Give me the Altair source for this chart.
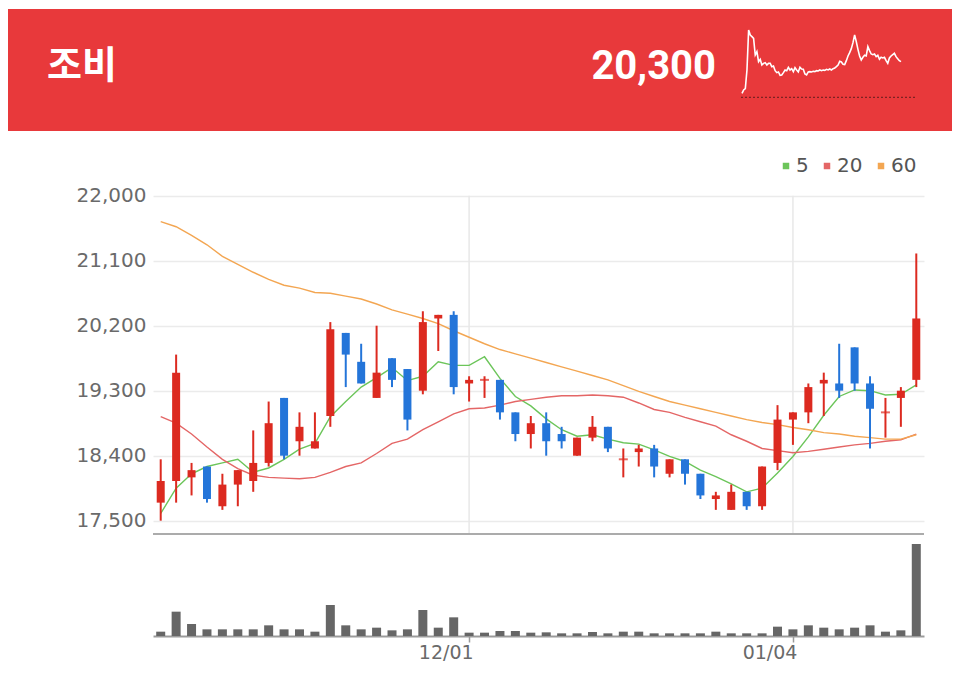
import json
import altair as alt
import pandas as pd

# ---------------- data ----------------
dates = ["11/03", "11/04", "11/05", "11/06", "11/09", "11/10", "11/11", "11/12", "11/13", "11/16",
         "11/17", "11/18", "11/19", "11/20", "11/23", "11/24", "11/25", "11/26", "11/27", "11/30",
         "12/01", "12/02", "12/03", "12/04", "12/07", "12/08", "12/09", "12/10", "12/11", "12/14",
         "12/15", "12/16", "12/17", "12/18", "12/21", "12/22", "12/23", "12/24", "12/28", "12/29",
         "12/30", "01/04", "01/05", "01/06", "01/07", "01/08", "01/11", "01/12", "01/13", "01/14"]

opens = [17750, 18050, 18100, 18250, 17700, 18000, 18050, 18300, 19200, 18600,
         18500, 18950, 20100, 19700, 19200, 19750, 19600, 19300, 20300, 20350,
         19400, 19450, 19450, 19000, 18700, 18850, 18700, 18400, 18650, 18800,
         18350, 18450, 18500, 18150, 18350, 18150, 17800, 17650, 17900, 17700,
         18300, 18900, 19000, 19400, 19400, 19900, 19400, 19000, 19200, 19450]
closes = [18050, 19550, 18200, 17800, 18000, 18200, 18300, 18850, 18400, 18800,
          18600, 20150, 19800, 19400, 19550, 19450, 18900, 20250, 20350, 19350,
          19450, 19450, 19000, 18700, 18850, 18600, 18600, 18650, 18800, 18500,
          18350, 18500, 18250, 18350, 18150, 17850, 17850, 17900, 17700, 18250,
          18900, 19000, 19350, 19450, 19300, 19400, 19050, 19000, 19300, 20300]
highs = [18350, 19800, 18300, 18250, 18150, 18200, 18750, 19150, 19200, 19000,
         19000, 20250, 20100, 19950, 20200, 19750, 19600, 20400, 20350, 20400,
         19500, 19500, 19450, 19000, 18950, 19000, 18800, 18650, 18950, 18800,
         18500, 18550, 18550, 18350, 18350, 18150, 17900, 18000, 17900, 18250,
         19100, 19000, 19400, 19550, 19950, 19900, 19500, 19200, 19350, 21200]
lows = [17500, 17750, 17850, 17750, 17650, 17700, 17900, 18250, 18350, 18400,
        18500, 18800, 19350, 19400, 19200, 19350, 18750, 19250, 19850, 19250,
        19150, 19200, 18900, 18600, 18500, 18400, 18500, 18400, 18600, 18450,
        18100, 18250, 18100, 18100, 18000, 17800, 17650, 17650, 17650, 17650,
        18200, 18550, 18850, 18950, 19200, 19300, 18500, 18650, 18800, 19350]
volumes = [130, 730, 360, 200, 200, 200, 200, 320, 200, 200,
           130, 930, 320, 200, 250, 170, 200, 780, 250, 560,
           100, 100, 150, 150, 100, 110, 80, 80, 120, 80,
           130, 130, 80, 80, 80, 80, 130, 80, 80, 80,
           280, 200, 320, 250, 200, 250, 320, 130, 170, 2760]

ma5 = [17600, 17950, 18150, 18250, 18300, 18350, 18170, 18230, 18350, 18490,
       18570, 18940, 19150, 19350, 19480, 19620, 19440, 19500, 19700, 19650,
       19650, 19770, 19470, 19220, 19090, 18910, 18760, 18670, 18690, 18630,
       18580, 18560, 18480, 18390, 18320, 18200, 18110, 18010, 17900, 17950,
       18160, 18390, 18660, 18960, 19220, 19310, 19300, 19240, 19250, 19380]
ma20 = [18940, 18850, 18700, 18520, 18350, 18220, 18130, 18100, 18090, 18080,
        18100, 18170, 18250, 18300, 18430, 18570, 18630, 18760, 18870, 18980,
        19050, 19060, 19100, 19150, 19180, 19210, 19230, 19230, 19240, 19230,
        19210, 19130, 19040, 19000, 18930, 18870, 18810, 18690, 18600, 18500,
        18470, 18440, 18460, 18490, 18520, 18550, 18570, 18600, 18620, 18700]
ma60 = [21640, 21570, 21450, 21320, 21160, 21050, 20940, 20840, 20760, 20720,
        20660, 20650, 20610, 20570, 20500, 20420, 20360, 20300, 20230, 20130,
        20040, 19950, 19870, 19810, 19750, 19690, 19630, 19570, 19510, 19450,
        19370, 19290, 19220, 19150, 19100, 19050, 19000, 18950, 18900, 18860,
        18830, 18790, 18760, 18720, 18700, 18670, 18650, 18630, 18630, 18690]

ma_names = ["5", "20", "60"]
ma_colors = ["#6cc55a", "#e46666", "#f3a652"]

price_ticks = [17500, 18400, 19300, 20200, 21100, 22000]
date_ticks = ["12/01", "01/04"]

stock_name = "조비"
last_price = "20,300"

spark_values = [12, 22, 26, 82, 202, 187, 182, 177, 127, 137, 107, 114, 97, 102, 104, 97,
                102, 102, 92, 94, 80, 74, 76, 66, 67, 74, 82, 80, 90, 82, 86, 77, 89, 82,
                76, 90, 85, 84, 70, 67, 76, 77, 76, 78, 77, 80, 79, 82, 80, 82, 81, 84,
                82, 85, 82, 86, 88, 92, 97, 108, 106, 99, 98, 110, 124, 134, 146, 164,
                187, 167, 144, 124, 112, 120, 126, 124, 152, 140, 130, 128, 130, 122,
                126, 114, 120, 118, 120, 110, 102, 118, 124, 128, 132, 122, 116, 110, 107]

# ---------------- colours / fonts ----------------
UP = "#dc2a20"
DOWN = "#2475d9"
HEADER = "#e8393b"
AXIS_FONT = "DejaVu Sans"

# ---------------- layout (plot area) ----------------
W, H = 771, 628
PRICE_RANGE = [512.7, 187.7]
VOL_RANGE = [628, 536]
SEP_Y = 526

n = len(dates)
df = pd.DataFrame({"i": list(range(n)), "date": dates, "open": opens, "close": closes,
                   "high": highs, "low": lows, "volume": volumes})
ma_df = pd.DataFrame({
    "i": list(range(n)) * 3,
    "ma": [m for m in ma_names for _ in range(n)],
    "value": ma5 + ma20 + ma60,
})
tick_df = pd.DataFrame({"i": [dates.index(d) for d in date_ticks], "label": date_ticks})
spark_df = pd.DataFrame({"t": list(range(len(spark_values))), "v": spark_values})
header_df = pd.DataFrame({"name": [stock_name], "price": [last_price]})


def X(axis=None):
    return alt.X("i:Q", scale=alt.Scale(domain=[-0.5, n - 0.5], range=[0, W], nice=False, zero=False),
                 axis=axis, title=None)


def P(field, axis=None):
    return alt.Y(f"{field}:Q", scale=alt.Scale(domain=[17500, 22000], range=PRICE_RANGE, nice=False, zero=False),
                 axis=axis, title=None)


candle_color = alt.condition("datum.close >= datum.open", alt.value(UP), alt.value(DOWN))

# header
header_bg = alt.Chart(header_df).mark_rect(color=HEADER).encode(
    x=alt.value(-145), x2=alt.value(W + 28), y=alt.value(1), y2=alt.value(123))
header_name = alt.Chart(header_df).mark_text(
    align="left", baseline="middle", font="Noto Sans CJK KR", fontWeight="bold", fontSize=38, color="white"
).encode(x=alt.value(-106), y=alt.value(59), text="name:N")
header_price = alt.Chart(header_df).mark_text(
    align="right", baseline="middle", font="Roboto", fontWeight="bold", fontSize=40, color="white"
).encode(x=alt.value(563), y=alt.value(59), text="price:N")
spark = alt.Chart(spark_df).mark_line(color="white", strokeWidth=1.6).encode(
    x=alt.X("t:Q", scale=alt.Scale(domain=[0, len(spark_values) - 1], range=[589, 748], nice=False, zero=False),
            axis=None),
    y=alt.Y("v:Q", scale=alt.Scale(domain=[0, 202], range=[89.3, 22], nice=False, zero=False), axis=None),
)
spark_base = alt.Chart(header_df).mark_rule(color="#7d2222", strokeDash=[2, 2], strokeWidth=1.2).encode(
    x=alt.value(588), x2=alt.value(762), y=alt.value(89.3))

# grid
vgrid = alt.Chart(tick_df).mark_rule(color="#e8e8e8", strokeWidth=1.5).encode(
    x=X(), y=alt.value(PRICE_RANGE[1]), y2=alt.value(SEP_Y))
separator = alt.Chart(header_df).mark_rule(color="#ababab", strokeWidth=2).encode(
    x=alt.value(0), x2=alt.value(W), y=alt.value(SEP_Y))

# moving averages
ma_lines = alt.Chart(ma_df).mark_line(strokeWidth=1.4).encode(
    x=X(), y=P("value"),
    color=alt.Color("ma:N", scale=alt.Scale(domain=ma_names, range=ma_colors),
                    legend=alt.Legend(title=None, orient="none", direction="horizontal",
                                      legendX=623, legendY=148, symbolType="square",
                                      symbolSize=9, symbolStrokeWidth=3.5, labelFont=AXIS_FONT,
                                      labelFontSize=20, labelColor="#555555", labelOffset=0,
                                      columnPadding=8, padding=0)),
    order="i:Q",
)

# candles
wicks = alt.Chart(df).mark_rule(strokeWidth=2).encode(
    x=X(),
    y=P("low", axis=alt.Axis(values=price_ticks, format=",.0f", grid=True, gridColor="#ebebeb", gridWidth=1.5,
                             domain=False, ticks=False, labelFont=AXIS_FONT, labelFontSize=20,
                             labelColor="#6a6a6a", labelPadding=7)),
    y2="high:Q",
    color=candle_color,
)
bodies = alt.Chart(df).mark_rule(strokeWidth=8).encode(
    x=X(), y=P("open"), y2="close:Q", color=candle_color)
doji_ticks = alt.Chart(df).transform_filter("datum.open == datum.close").mark_tick(
    orient="horizontal", size=9, thickness=2).encode(x=X(), y=P("close"), color=candle_color)

# volume
label_expr = json.dumps(dates) + "[datum.value]"
vol = alt.Chart(df).mark_rule(strokeWidth=9, color="#666666").encode(
    x=X(axis=alt.Axis(values=tick_df["i"].tolist(), labelExpr=label_expr, grid=False,
                      domainColor="#9b9b9b", domainWidth=2, tickColor="#9b9b9b", tickSize=6,
                      tickWidth=1.5, labelFont=AXIS_FONT, labelFontSize=19, labelColor="#6a6a6a",
                      labelAlign="right", labelOffset=4, labelPadding=1)),
    y=alt.Y("volume:Q", scale=alt.Scale(domain=[0, max(volumes)], range=VOL_RANGE, nice=False, zero=True),
            axis=None, title=None),
    y2=alt.datum(0),
)

chart = alt.layer(
    header_bg, header_name, header_price, spark_base, spark,
    vgrid, separator, ma_lines, wicks, bodies, doji_ticks, vol,
).resolve_scale(
    x="independent", y="independent", color="independent"
).properties(
    width=W, height=H,
    padding={"left": 145, "right": 28, "top": 0, "bottom": 29},
    autosize=alt.AutoSizeParams(type="none"),
    background="white",
).configure_view(stroke=None)

chart.save("out.html", embed_options={"renderer": "svg", "actions": False})
